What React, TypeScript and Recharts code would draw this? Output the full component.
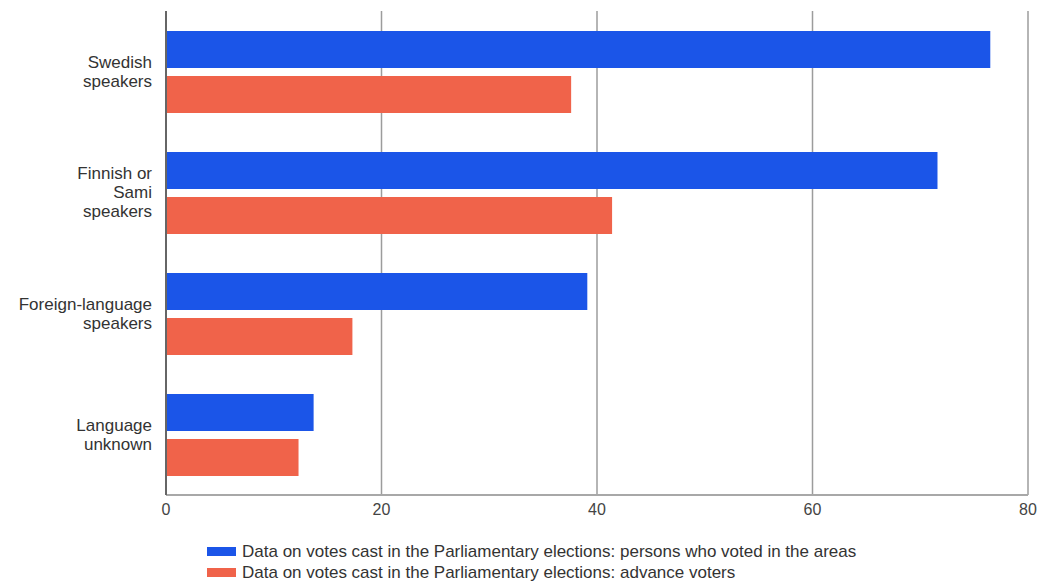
import { BarChart, Bar, XAxis, YAxis, CartesianGrid } from 'recharts'

const categories = ['Swedish speakers', 'Finnish or Sami speakers', 'Foreign-language speakers', 'Language unknown']
const categoryLines = [['Swedish', 'speakers'], ['Finnish or', 'Sami', 'speakers'], ['Foreign-language', 'speakers'], ['Language', 'unknown']]
const votedInAreas = [76.5, 71.6, 39.1, 13.7]
const advanceVoters = [37.6, 41.4, 17.3, 12.3]
const xTicks = [0, 20, 40, 60, 80]

const SERIES = [
  { key: 'areas', name: 'Data on votes cast in the Parliamentary elections: persons who voted in the areas', color: '#1b55e8' },
  { key: 'advance', name: 'Data on votes cast in the Parliamentary elections: advance voters', color: '#f0634a' },
]

const data = categories.map((name, i) => ({
  name,
  areas: votedInAreas[i],
  advance: advanceVoters[i],
}))

const SANS = "'Liberation Sans', Arial, sans-serif"

function CategoryTick({ y, payload }: any) {
  const idx = categories.indexOf(payload.value)
  const lines = categoryLines[idx] || [payload.value]
  const n = lines.length
  return (
    <g>
      {lines.map((line, i) => (
        <text
          key={i}
          x={152}
          y={y + (i - (n - 1) / 2) * 19 + 5.5}
          textAnchor="end"
          fontFamily={SANS}
          fontSize={17}
          fill="#333"
        >
          {line}
        </text>
      ))}
    </g>
  )
}

export default function App() {
  return (
    <div style={{ position: 'absolute', left: 0, top: 0, width: 1038, height: 582, background: '#fff' }}>
      <BarChart
        layout="vertical"
        width={1038}
        height={582}
        data={data}
        margin={{ top: 11, right: 10, bottom: 57, left: 0 }}
        barSize={37}
        barGap={8}
      >
        <CartesianGrid horizontal={false} stroke="#9c9c9c" strokeWidth={1.5} />
        <XAxis
          type="number"
          domain={[0, 80]}
          ticks={xTicks}
          height={30}
          tickLine={false}
          tickSize={0}
          tickMargin={9}
          axisLine={{ stroke: '#a8a8a8', strokeWidth: 2 }}
          tick={{ fill: '#444', fontSize: 16, fontFamily: SANS }}
          interval={0}
        />
        <YAxis
          type="category"
          dataKey="name"
          width={166}
          tickLine={false}
          axisLine={{ stroke: '#666', strokeWidth: 2 }}
          tick={<CategoryTick />}
          interval={0}
        />
        {SERIES.map(s => (
          <Bar key={s.key} dataKey={s.key} name={s.name} fill={s.color} isAnimationActive={false} />
        ))}
      </BarChart>
      <div style={{ position: 'absolute', left: 207, top: 541, fontFamily: SANS, fontSize: 17, color: '#333' }}>
        {SERIES.map(s => (
          <div key={s.key} style={{ display: 'flex', alignItems: 'center', height: 21 }}>
            <span style={{ display: 'inline-block', width: 29, height: 9, background: s.color, marginRight: 6 }} />
            <span>{s.name}</span>
          </div>
        ))}
      </div>
    </div>
  )
}
